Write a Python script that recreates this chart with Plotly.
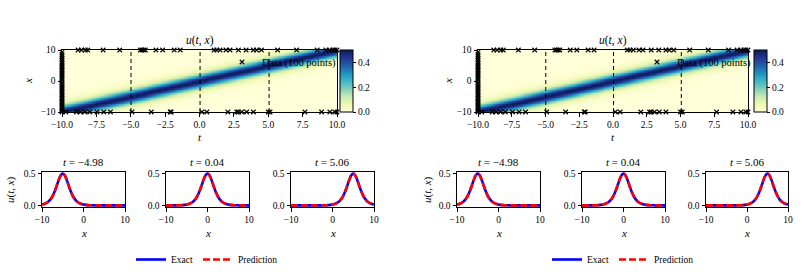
import plotly.graph_objects as go

# ---------------- data ----------------
# soliton profile u vs. distance |x - t| (steps of 0.5)
profile_offsets_step = 0.5
profile_values = [0.500, 0.470, 0.393, 0.298, 0.210, 0.140, 0.090, 0.057, 0.035,
                  0.022, 0.013, 0.008, 0.005, 0.003, 0.002, 0.001, 0.001]

t_grid = [-10 + 0.5 * k for k in range(41)]
x_grid = [-10 + 0.5 * k for k in range(41)]

# training data (100 points) on the boundaries
data_left_x = [-10.0, -9.7, -9.3, -9.0, -8.6, -8.1, -7.8, -7.3, -6.8, -6.5, -6.0, -5.6,
               -5.1, -4.6, -4.2, -3.7, -3.3, -2.8, -2.3, -1.9, -1.4, -0.9, -0.5, 0.1,
               0.6, 1.0, 1.6, 2.1, 2.5, 3.0, 3.5, 4.1, 4.6, 5.0, 5.6, 6.1, 6.7, 7.3,
               7.9, 8.6, 9.3]
data_top_t = [-8.83, -8.59, -8.30, -8.13, -7.01, -5.80, -4.30, -4.18, -4.06, -3.94,
              -3.17, -2.68, -1.84, -1.40, 1.06, 1.26, 1.50, 1.93, 2.22, 2.83, 3.39,
              3.92, 4.16, 4.50, 5.68, 7.06, 8.56, 9.19, 9.48, 9.70, 9.84, 10.0]
data_bottom_t = [-9.72, -8.95, -8.66, -8.34, -7.98, -7.45, -6.96, -6.48, -4.91, -3.51,
                 -2.13, -2.06, 0.17, 0.53, 2.06, 2.71, 2.83, 3.07, 3.43, 3.92, 5.00,
                 5.13, 7.67, 8.88, 9.48, 9.84, 10.0]

slice_times = [-4.98, 0.04, 5.06]
slice_labels = ["\u22124.98", "0.04", "5.06"]

heat_xticks = [-10, -7.5, -5, -2.5, 0, 2.5, 5, 7.5, 10]
heat_xticktext = ["\u221210.0", "\u22127.5", "\u22125.0", "\u22122.5", "0.0", "2.5", "5.0", "7.5", "10.0"]
heat_yticks = [-10, 0, 10]
heat_yticktext = ["\u221210", "0", "10"]
slice_xticks = [-10, 0, 10]
slice_xticktext = ["\u221210", "0", "10"]
slice_yticks = [0, 0.5]
slice_yticktext = ["0.0", "0.5"]
cbar_ticks = [0, 0.2, 0.4]
cbar_ticktext = ["0.0", "0.2", "0.4"]

# ---------------- build field by lookup ----------------
def u_at(ti, xi):
    k = int(round(abs(x_grid[xi] - t_grid[ti]) / profile_offsets_step))
    return profile_values[k] if k < len(profile_values) else 0.0

Z = [[u_at(j, i) for j in range(len(t_grid))] for i in range(len(x_grid))]

def nearest_t_index(ts):
    return min(range(len(t_grid)), key=lambda j: abs(t_grid[j] - ts))

W, H = 810, 274
FONT = "Liberation Serif"

def px(v):
    return v / W

def py(v):
    return 1 - v / H

YLGNBU = [[0.0, "#ffffd9"], [0.125, "#edf8b1"], [0.25, "#c7e9b4"], [0.375, "#7fcdbb"],
          [0.5, "#41b6c4"], [0.625, "#1d91c0"], [0.75, "#225ea8"], [0.875, "#253494"],
          [1.0, "#081d58"]]

fig = go.Figure()
layout = dict(width=W, height=H, margin=dict(l=0, r=0, t=0, b=0, autoexpand=False),
              paper_bgcolor="white", plot_bgcolor="white",
              font=dict(family=FONT, size=9.5, color="black"),
              showlegend=True)
annotations = []
shapes = []

def label(text, x, y, size=11, angle=0):
    annotations.append(dict(text=text, x=px(x), y=py(y), xref="paper", yref="paper",
                            xanchor="center", yanchor="middle", showarrow=False,
                            textangle=angle, font=dict(size=size)))

axis_common = dict(showline=True, mirror=True, linecolor="black", linewidth=1,
                   ticks="outside", ticklen=3.5, tickwidth=1, tickcolor="black",
                   showgrid=False, zeroline=False, tickfont=dict(size=9.5),
                   automargin=False)

panels = [
    dict(heat=(62, 337), cbar=340, slices=[(42, 125), (166, 249), (291, 374)],
         ylab_heat=28, ylab_slice=10, data_leg=222, leg_center=207),
    dict(heat=(478, 748), cbar=754, slices=[(457, 540), (582, 665), (706, 788)],
         ylab_heat=448, ylab_slice=427, data_leg=637, leg_center=623),
]

ax_n = 0
for p_i, P in enumerate(panels):
    # heatmap axes
    ax_n += 1
    xa = "xaxis" if ax_n == 1 else f"xaxis{ax_n}"
    ya = "yaxis" if ax_n == 1 else f"yaxis{ax_n}"
    xr = "x" if ax_n == 1 else f"x{ax_n}"
    yr = "y" if ax_n == 1 else f"y{ax_n}"
    layout[xa] = dict(axis_common, domain=[px(P["heat"][0]), px(P["heat"][1])], anchor=yr,
                      range=[-10, 10], tickvals=heat_xticks, ticktext=heat_xticktext)
    layout[ya] = dict(axis_common, domain=[py(112), py(50)], anchor=xr,
                      range=[-10, 10], tickvals=heat_yticks, ticktext=heat_yticktext)
    fig.add_trace(go.Heatmap(x=t_grid, y=x_grid, z=Z, zmin=0, zmax=0.5, zsmooth="best",
                             colorscale=YLGNBU, xaxis=xr, yaxis=yr, hoverinfo="skip",
                             colorbar=dict(x=px(P["cbar"]), xanchor="left", y=py(81),
                                           yanchor="middle", len=62 / H, lenmode="fraction",
                                           thickness=13, xpad=0, ypad=0,
                                           outlinewidth=1, outlinecolor="black",
                                           tickvals=cbar_ticks, ticktext=cbar_ticktext,
                                           ticks="outside", ticklen=3, tickcolor="black",
                                           tickfont=dict(size=9.5, family=FONT))))
    dx = [-10.0] * len(data_left_x) + data_top_t + data_bottom_t
    dy = data_left_x + [10.0] * len(data_top_t) + [-10.0] * len(data_bottom_t)
    leg_name = f"legend{3 + p_i}"
    fig.add_trace(go.Scatter(x=dx, y=dy, mode="markers", name="Data (100 points)",
                             marker=dict(symbol="x-thin", size=4.5,
                                         line=dict(color="black", width=1.1), color="black"),
                             cliponaxis=False, xaxis=xr, yaxis=yr, legend=leg_name))
    layout[leg_name] = dict(x=px(P["data_leg"]), xanchor="left", y=py(62), yanchor="middle",
                            bgcolor="rgba(0,0,0,0)", borderwidth=0,
                            font=dict(size=10.5, family=FONT), itemwidth=30)
    for ts in slice_times:
        shapes.append(dict(type="line", xref=xr, yref=yr, x0=ts, x1=ts,
                           y0=heat_yticks[0], y1=heat_yticks[-1],
                           line=dict(color="black", width=1, dash="4px,3px")))
    cx = (P["heat"][0] + P["heat"][1]) / 2
    label("<i>u</i>(<i>t</i>, <i>x</i>)", cx, 41, size=11.5)
    label("<i>t</i>", cx, 137)
    label("<i>x</i>", P["ylab_heat"], 81, angle=-90)

    main_leg = "legend" if p_i == 0 else "legend2"
    layout[main_leg] = dict(orientation="h", x=px(P["leg_center"]), xanchor="center",
                            y=0, yanchor="bottom", bgcolor="rgba(0,0,0,0)",
                            font=dict(size=9.5, family=FONT), itemwidth=30,
                            traceorder="normal")

    for s_i, (x0, x1) in enumerate(P["slices"]):
        ax_n += 1
        xa = f"xaxis{ax_n}"
        ya = f"yaxis{ax_n}"
        xr = f"x{ax_n}"
        yr = f"y{ax_n}"
        layout[xa] = dict(axis_common, domain=[px(x0), px(x1)], anchor=yr, range=[-10, 10],
                          tickvals=slice_xticks, ticktext=slice_xticktext)
        layout[ya] = dict(axis_common, domain=[py(207), py(172)], anchor=xr,
                          range=[-0.025, 0.525], tickvals=slice_yticks,
                          ticktext=slice_yticktext)
        j = nearest_t_index(slice_times[s_i])
        col = [Z[i][j] for i in range(len(x_grid))]
        show = s_i == 0
        fig.add_trace(go.Scatter(x=x_grid, y=col, mode="lines", name="Exact",
                                 line=dict(color="#0000ff", width=2.6, shape="spline"),
                                 xaxis=xr, yaxis=yr, showlegend=show, legend=main_leg))
        fig.add_trace(go.Scatter(x=x_grid, y=col, mode="lines", name="Prediction",
                                 line=dict(color="#ff0000", width=2.6, shape="spline",
                                           dash="7px,3px"),
                                 xaxis=xr, yaxis=yr, showlegend=show, legend=main_leg))
        scx = (x0 + x1) / 2
        label(f"<i>t</i> = {slice_labels[s_i]}", scx, 162)
        label("<i>x</i>", scx, 233)
    label("<i>u</i>(<i>t</i>, <i>x</i>)", P["ylab_slice"], 190, angle=-90)

layout["annotations"] = annotations
layout["shapes"] = shapes
fig.update_layout(**layout)
fig.write_html("out.html", config={"displayModeBar": False},
               post_script="document.body.style.margin='0px';document.body.style.overflow='hidden';")
